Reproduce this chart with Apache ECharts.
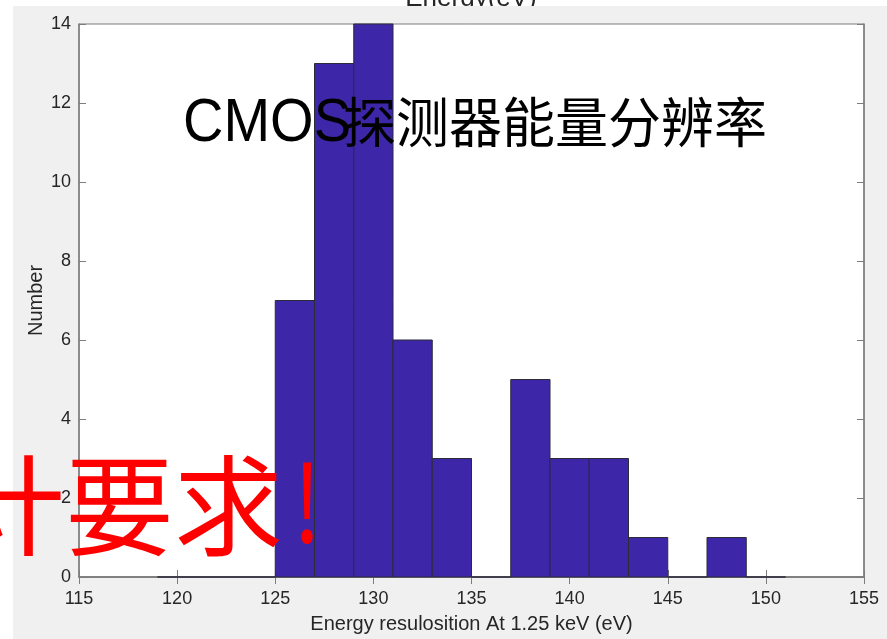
<!DOCTYPE html>
<html>
<head>
<meta charset="utf-8">
<script src="https://cdn.jsdelivr.net/npm/echarts@6/dist/echarts.min.js"></script>
<style>
  html, body { margin: 0; padding: 0; background: #fff; }
  #chart { width: 887px; height: 639px; }
</style>
</head>
<body>
<div id="chart"></div>
<script>
// Histogram of energy resolution measured at 1.25 keV
const binEdges = [119, 121, 123, 125, 127, 129, 131, 133, 135, 137, 139, 141, 143, 145, 147, 149, 151];
const binCounts = [0, 0, 0, 7, 13, 14, 6, 3, 0, 5, 3, 3, 1, 0, 1, 0];
const xTicks = [115, 120, 125, 130, 135, 140, 145, 150, 155];
const yTicks = [0, 2, 4, 6, 8, 10, 12, 14];

const figTitle = 'Energy(eV)';
const xName = 'Energy resulosition At 1.25 keV (eV)';
const yName = 'Number';
const bannerLatin = 'CMOS';
const bannerCJK = '探测器能量分辨率';
const noteText = '计要求';
const noteMark = '!';

const barFill = '#3d26a8';
const barEdge = '#2b2b3a';
const axisGray = '#7d7d7d';
const textGray = '#262626';

const bins = binCounts.map((c, i) => [binEdges[i], binEdges[i + 1], c]);

const chart = echarts.init(document.getElementById('chart'), null, { renderer: 'canvas' });

const sansFamily = 'Liberation Sans, Arial, sans-serif';
const tickFont = { fontFamily: sansFamily, fontSize: 18, color: textGray };

const xBase = {
  type: 'value',
  min: xTicks[0],
  max: xTicks[xTicks.length - 1],
  interval: xTicks[1] - xTicks[0],
  splitLine: { show: false },
  axisLine: { show: true, lineStyle: { color: axisGray, width: 1.5 } },
  axisTick: { show: true, inside: true, length: 7, lineStyle: { color: axisGray, width: 1 } }
};
const yBase = {
  type: 'value',
  min: yTicks[0],
  max: yTicks[yTicks.length - 1],
  interval: yTicks[1] - yTicks[0],
  splitLine: { show: false },
  axisLine: { show: true, lineStyle: { color: axisGray, width: 1.5 } },
  axisTick: { show: true, inside: true, length: 7, lineStyle: { color: axisGray, width: 1 } }
};

chart.setOption({
  backgroundColor: '#ffffff',
  animation: false,
  grid: {
    left: 79, right: 23, top: 24, bottom: 60,
    show: true, backgroundColor: '#ffffff', borderColor: axisGray, borderWidth: 1
  },
  xAxis: [
    Object.assign({}, xBase, {
      position: 'bottom',
      axisLabel: Object.assign({ margin: 13 }, tickFont),
      name: xName,
      nameLocation: 'middle',
      nameGap: 37,
      nameTextStyle: { fontFamily: sansFamily, fontSize: 20, color: textGray }
    }),
    Object.assign({}, xBase, { position: 'top', axisLabel: { show: false } })
  ],
  yAxis: [
    Object.assign({}, yBase, {
      position: 'left',
      axisLabel: Object.assign({ margin: 8 }, tickFont),
      name: yName,
      nameLocation: 'middle',
      nameRotate: 90,
      nameGap: 33,
      nameMoveOverlap: false,
      nameTextStyle: { fontFamily: sansFamily, fontSize: 20, color: textGray }
    }),
    Object.assign({}, yBase, { position: 'right', axisLabel: { show: false } })
  ],
  series: [{
    type: 'custom',
    xAxisIndex: 0,
    yAxisIndex: 0,
    data: bins,
    encode: { x: [0, 1], y: 2 },
    renderItem: function (params, api) {
      const p0 = api.coord([api.value(0), 0]);
      const p1 = api.coord([api.value(1), api.value(2)]);
      return {
        type: 'rect',
        shape: { x: p0[0], y: p1[1], width: p1[0] - p0[0], height: p0[1] - p1[1] },
        style: { fill: barFill, stroke: barEdge, lineWidth: 1 }
      };
    }
  }],
  graphic: [
    {
      type: 'text', z: -20, x: 471, y: -1,
      style: {
        text: figTitle, align: 'center', verticalAlign: 'middle',
        fontFamily: sansFamily, fontSize: 26, fill: textGray
      }
    },
    {
      type: 'rect', z: -10,
      shape: { x: 13, y: 6, width: 874, height: 633 },
      style: { fill: '#f0f0f0' }
    },
    {
      type: 'text', z: 100, x: 183, y: 124, scaleY: 1.1,
      style: {
        text: bannerLatin, align: 'left', verticalAlign: 'middle',
        fontFamily: sansFamily, fontSize: 56, fill: '#000'
      }
    },
    {
      type: 'text', z: 100, x: 343, y: 122, scaleY: 1.02,
      style: {
        text: bannerCJK, align: 'left', verticalAlign: 'middle',
        fontFamily: 'Noto Sans CJK SC', fontSize: 53, fill: '#000'
      }
    },
    {
      type: 'text', z: 101, x: -44, y: 506,
      style: {
        text: noteText, align: 'left', verticalAlign: 'middle',
        fontFamily: 'Noto Sans CJK SC', fontSize: 109, fill: '#ff0000'
      }
    },
    {
      type: 'text', z: 101, x: 307, y: 502, scaleX: 0.8,
      style: {
        text: noteMark, align: 'center', verticalAlign: 'middle',
        fontFamily: 'Noto Sans CJK SC', fontSize: 107, fill: '#ff0000'
      }
    }
  ]
});
</script>
</body>
</html>
